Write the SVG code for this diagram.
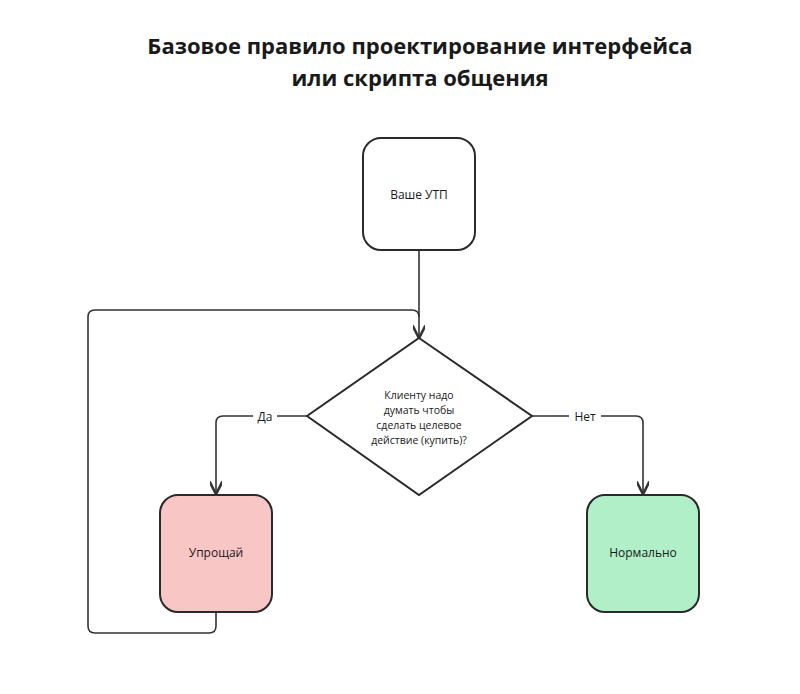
<svg xmlns="http://www.w3.org/2000/svg" width="800" height="694" viewBox="0 0 800 694">
<style>
.t{font-family:"Open Sans","Noto Sans",sans-serif;fill:#1a1a1a}
.n{stroke:#2a2a2a;stroke-width:2}
.c{fill:none;stroke:#333;stroke-width:1.6}
</style>
<defs><marker id="a" viewBox="0 0 10 10" refX="9" refY="5" markerWidth="8" markerHeight="8" orient="auto"><path d="M0,0 L10,5 L0,10" fill="none" stroke="#333" stroke-width="2"/></marker></defs>
<rect width="800" height="694" fill="#fff"/>
<text class="t" x="420" y="54" text-anchor="middle" font-size="22" font-weight="bold">Базовое правило проектирование интерфейса</text>
<text class="t" x="420" y="86" text-anchor="middle" font-size="22" font-weight="bold">или скрипта общения</text>
<g id="connectors">
<path class="c" d="M419,250 V337" marker-end="url(#a)"/>
<path class="c" d="M216,612 V626 Q216,633 209,633 H95 Q88,633 88,626 V317 Q88,310 95,310 H412 Q419,310 419,317"/>
<path class="c" d="M307,416 H223 Q216,416 216,423 V493" marker-end="url(#a)"/>
<path class="c" d="M532,416 H636 Q643,416 643,423 V493" marker-end="url(#a)"/>
<rect x="253" y="407" width="24" height="18" fill="#fff"/>
<text class="t" x="265" y="421" text-anchor="middle" font-size="12">Да</text>
<rect x="569" y="407" width="32" height="18" fill="#fff"/>
<text class="t" x="585" y="421" text-anchor="middle" font-size="12">Нет</text>
</g>
<g id="utp"><rect class="n" x="363" y="138" width="112" height="112" rx="18" fill="#fff"/>
<text class="t" x="419" y="199" text-anchor="middle" font-size="12">Ваше УТП</text></g>
<g id="decision"><polygon class="n" points="419,338 532,416 419,495 307,416" fill="#fff"/>
<text class="t" text-anchor="middle" font-size="10.5"><tspan x="419" y="399">Клиенту надо</tspan><tspan x="419" y="414">думать чтобы</tspan><tspan x="419" y="429">сделать целевое</tspan><tspan x="419" y="444">действие (купить)?</tspan></text></g>
<g id="simplify"><rect class="n" x="160" y="495" width="112" height="117" rx="18" fill="#f9c6c6"/>
<text class="t" x="216" y="557" text-anchor="middle" font-size="12">Упрощай</text></g>
<g id="normal"><rect class="n" x="587" y="495" width="112" height="117" rx="18" fill="#b0efc8"/>
<text class="t" x="643" y="557" text-anchor="middle" font-size="12">Нормально</text></g>
</svg>
